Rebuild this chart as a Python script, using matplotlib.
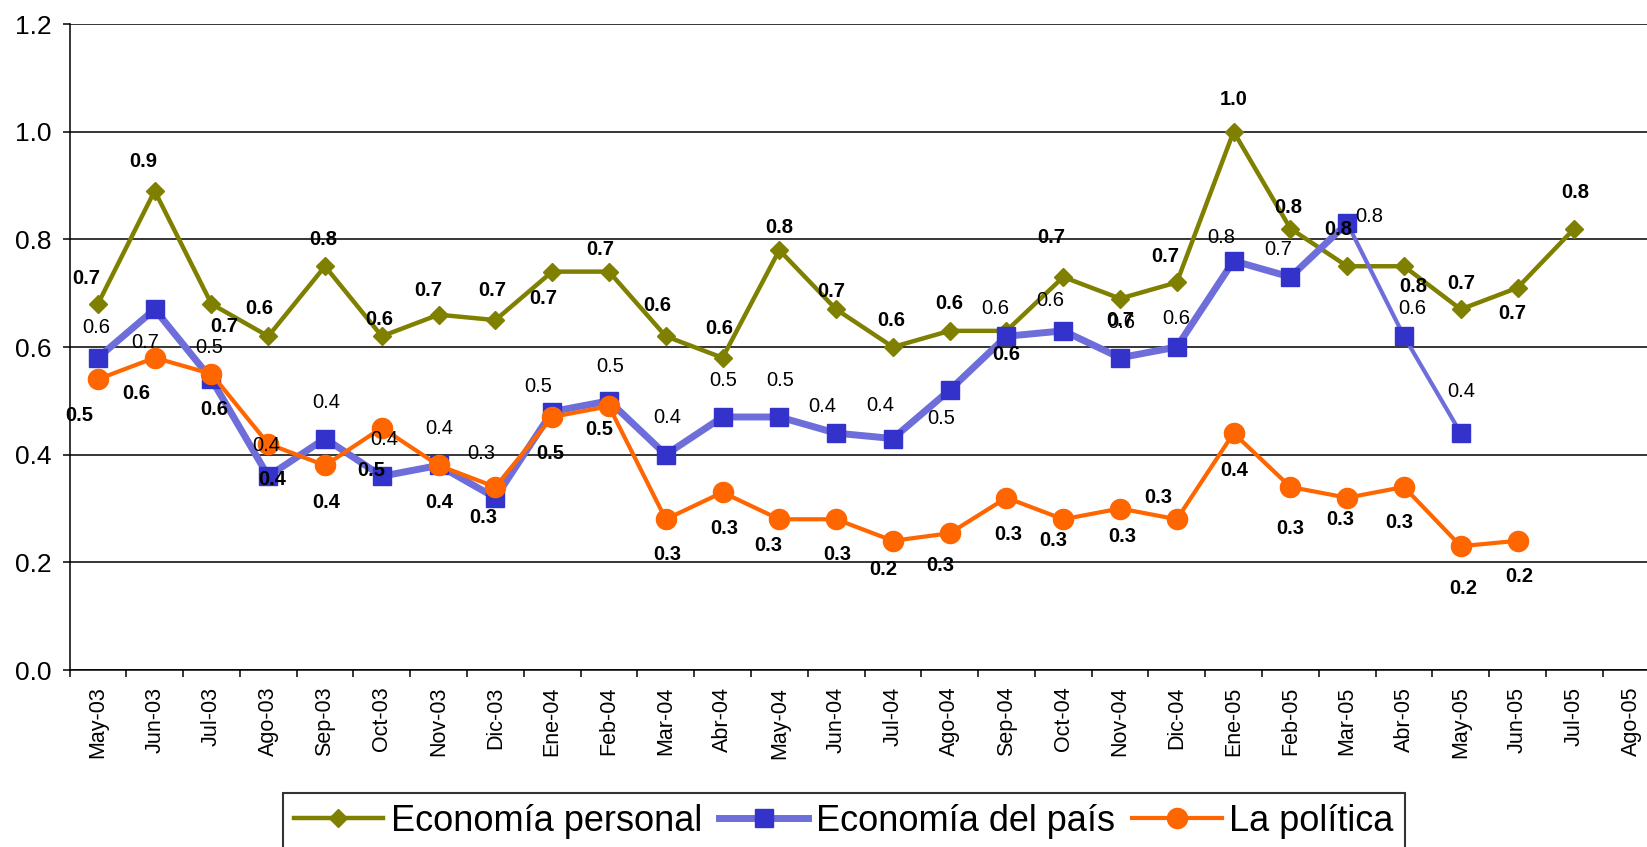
import numpy as np
import matplotlib
matplotlib.use("Agg")
import matplotlib.pyplot as plt
from matplotlib.lines import Line2D
from matplotlib.ticker import FormatStrFormatter

plt.rcParams['font.family'] = ['Liberation Sans', 'DejaVu Sans']

nan = np.nan

months = ["May-03", "Jun-03", "Jul-03", "Ago-03", "Sep-03", "Oct-03", "Nov-03",
          "Dic-03", "Ene-04", "Feb-04", "Mar-04", "Abr-04", "May-04", "Jun-04",
          "Jul-04", "Ago-04", "Sep-04", "Oct-04", "Nov-04", "Dic-04", "Ene-05",
          "Feb-05", "Mar-05", "Abr-05", "May-05", "Jun-05", "Jul-05", "Ago-05"]

economia_personal = [0.68, 0.89, 0.68, 0.62, 0.75, 0.62, 0.66, 0.65, 0.74, 0.74,
                     0.62, 0.58, 0.78, 0.67, 0.60, 0.63, 0.63, 0.73, 0.69, 0.72,
                     1.00, 0.82, 0.75, 0.75, 0.67, 0.71, 0.82, nan]

economia_pais = [0.58, 0.67, 0.54, 0.36, 0.43, 0.36, 0.38, 0.32, 0.48, 0.50,
                 0.40, 0.47, 0.47, 0.44, 0.43, 0.52, 0.62, 0.63, 0.58, 0.60,
                 0.76, 0.73, 0.83, 0.62, 0.44, nan, nan, nan]

la_politica = [0.54, 0.58, 0.55, 0.42, 0.38, 0.45, 0.38, 0.34, 0.47, 0.49,
               0.28, 0.33, 0.28, 0.28, 0.24, 0.254, 0.32, 0.28, 0.30, 0.28,
               0.44, 0.34, 0.32, 0.34, 0.23, 0.24, nan, nan]

# where each data label sits relative to its point (pixels, x right / y up),
# the labels were moved around by hand in the original
off_personal = [(-12, 25), (-11, 29), (13, -23), (-9, 28), (-2, 27), (-3, 17),
                (-10, 24), (-3, 30), (-9, -27), (-9, 22), (-8, 31), (-3, 29),
                (0, 23), (-5, 18), (-2, 27), (0, 27), (0, -24), (-12, 40),
                (0, -22), (-12, 26), (0, 32), (-2, 21), (-9, 37), (9, -20),
                (0, 26), (-5, -26), (1, 36), (0, 0)]
off_pais = [(-2, 30), (-9, -33), (-2, 32), (-2, 31), (1, 36), (2, 37), (1, 37),
            (-14, 44), (-14, 25), (1, 34), (1, 37), (1, 36), (1, 36), (-14, 27),
            (-13, 33), (-8, -28), (-11, 28), (-13, 30), (1, 35), (-1, 29),
            (-12, 23), (-12, 28), (22, 7), (8, 28), (0, 42)]
off_politica = [(-19, -36), (-18, -36), (3, -36), (4, -36), (1, -37), (-11, -43),
                (1, -37), (-12, -31), (-2, -37), (-10, -23), (1, -35), (2, -36),
                (-11, -26), (1, -35), (-10, -29), (-9, -32), (2, -37), (-10, -21),
                (2, -28), (-19, 22), (1, -37), (0, -42), (-7, -22), (-5, -36),
                (2, -42), (2, -36)]

olive = '#808000'
blue_line = '#6E6EDB'
blue_mark = '#3333CC'
orange = '#FF6600'

W, H = 1647, 847
fig = plt.figure(figsize=(W / 100, H / 100), dpi=100)
ax = fig.add_axes([69.5 / W, 1 - 670 / H, 1590 / W, (670 - 24) / H])

x = np.arange(len(months))
pais = np.array(economia_pais)

ax.plot(x, economia_personal, color=olive, lw=3.2, marker='D', ms=9,
        mfc=olive, mec=olive, zorder=3)
ax.plot(x[:23], pais[:23], color=blue_line, lw=5, zorder=4)
ax.plot(x[22:], pais[22:], color=blue_line, lw=3, zorder=4)
ax.plot(x, pais, ls='none', marker='s', ms=13, color=blue_mark, zorder=4.5)
ax.plot(x, la_politica, color=orange, lw=3, marker='o', ms=14.5,
        mfc=orange, mec=orange, zorder=5)


def add_labels(values, offsets, bold):
    for i, v in enumerate(values):
        if np.isnan(v):
            continue
        ax.annotate(f'{v:.1f}', (x[i], v), xytext=offsets[i],
                    textcoords='offset pixels', ha='center', va='center',
                    fontsize=14.5, fontweight='bold' if bold else 'normal',
                    color='black', zorder=7, annotation_clip=False)


add_labels(economia_personal, off_personal, True)
add_labels(economia_pais, off_pais, False)
add_labels(la_politica, off_politica, True)

ax.set_xlim(-0.5, len(months) - 0.5)
ax.set_ylim(0, 1.2)
ax.set_xticks(x)
ax.set_xticklabels(months, rotation=90, fontsize=15.5)
ax.set_xticks(np.arange(-0.5, len(months), 1), minor=True)
ax.tick_params(axis='x', which='major', length=0, pad=12)
ax.tick_params(axis='x', which='minor', length=5, width=1.1, color='black')
ax.set_yticks(np.arange(0, 1.21, 0.2))
ax.yaxis.set_major_formatter(FormatStrFormatter('%.1f'))
ax.tick_params(axis='y', length=5, width=1.1, pad=8, labelsize=19)

ax.set_axisbelow(True)
ax.yaxis.grid(True, color='black', lw=1.1)
for side in ('top', 'right'):
    ax.spines[side].set_visible(False)
for side in ('left', 'bottom'):
    ax.spines[side].set_linewidth(1.1)
    ax.spines[side].set_color('black')

handles = [
    Line2D([], [], color=olive, lw=3.2, marker='D', ms=9),
    Line2D([], [], color=blue_line, lw=5, marker='s', ms=13,
           mfc=blue_mark, mec=blue_mark),
    Line2D([], [], color=orange, lw=3, marker='o', ms=14.5),
]
leg = fig.legend(handles, ['Economía personal', 'Economía del país', 'La política'],
                 loc='upper left', bbox_to_anchor=(283 / W, 1 - 793 / H),
                 ncol=3, fontsize=26, frameon=True, fancybox=False,
                 edgecolor='black', handlelength=2.47, handletextpad=0.22,
                 columnspacing=0.47, borderpad=0.3, borderaxespad=0)
leg.get_frame().set_linewidth(1.5)

fig.savefig('out.png', dpi=100)
